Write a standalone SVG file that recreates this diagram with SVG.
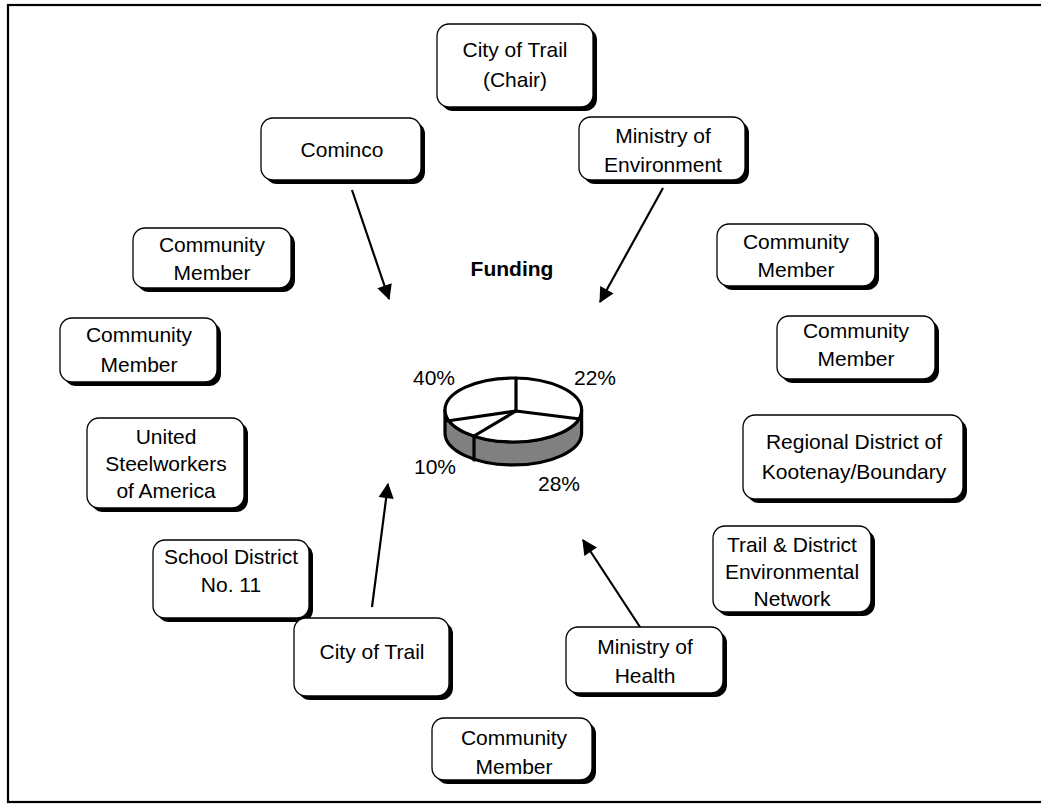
<svg xmlns="http://www.w3.org/2000/svg" width="1041" height="804" viewBox="0 0 1041 804">
<defs>
<style>
.sh{fill:#000}
.bx{fill:#fff;stroke:#000;stroke-width:1.3}
.t{font-family:"Liberation Sans",Arial,sans-serif;font-size:21px;fill:#000;text-anchor:middle}
.b{font-weight:bold}
.ar{stroke:#000;stroke-width:2.2;fill:none}
.pl{stroke:#000;stroke-width:3.2;stroke-linecap:round;stroke-linejoin:round}
</style>
<marker id="ah" viewBox="0 0 10 10" refX="9" refY="5" markerWidth="8" markerHeight="8" markerUnits="userSpaceOnUse" orient="auto" style="overflow:visible">
<path d="M0,0 L10,5 L0,10 z" fill="#000" transform="scale(1.9) translate(-4.5,-2.4)"/>
</marker>
</defs>
<rect width="1041" height="804" fill="#fff"/>
<rect x="8" y="5" width="1035" height="797" fill="none" stroke="#000" stroke-width="2.2"/>

<g id="n-chair"><rect class="sh" x="441" y="28" width="156" height="83" rx="12"/><rect class="bx" x="437" y="24" width="156" height="83" rx="12"/><text class="t" x="515" y="57">City of Trail</text><text class="t" x="515" y="87">(Chair)</text></g>
<g id="n-cominco"><rect class="sh" x="265" y="122" width="160" height="62" rx="12"/><rect class="bx" x="261" y="118" width="160" height="62" rx="12"/><text class="t" x="342" y="157">Cominco</text></g>
<g id="n-minenv"><rect class="sh" x="583" y="121" width="166" height="63" rx="12"/><rect class="bx" x="579" y="117" width="166" height="63" rx="12"/><text class="t" x="663" y="143">Ministry of</text><text class="t" x="663" y="172">Environment</text></g>
<g id="n-cm1"><rect class="sh" x="137" y="232" width="158" height="60" rx="12"/><rect class="bx" x="133" y="228" width="158" height="60" rx="12"/><text class="t" x="212" y="252">Community</text><text class="t" x="212" y="280">Member</text></g>
<g id="n-cm2"><rect class="sh" x="721" y="228" width="158" height="62" rx="12"/><rect class="bx" x="717" y="224" width="158" height="62" rx="12"/><text class="t" x="796" y="249">Community</text><text class="t" x="796" y="277">Member</text></g>
<g id="n-cm3"><rect class="sh" x="64" y="322" width="157" height="64" rx="12"/><rect class="bx" x="60" y="318" width="157" height="64" rx="12"/><text class="t" x="139" y="342">Community</text><text class="t" x="139" y="372">Member</text></g>
<g id="n-cm4"><rect class="sh" x="781" y="320" width="158" height="63" rx="12"/><rect class="bx" x="777" y="316" width="158" height="63" rx="12"/><text class="t" x="856" y="338">Community</text><text class="t" x="856" y="366">Member</text></g>
<g id="n-usw"><rect class="sh" x="91" y="422" width="157" height="90" rx="12"/><rect class="bx" x="87" y="418" width="157" height="90" rx="12"/><text class="t" x="166" y="444">United</text><text class="t" x="166" y="471">Steelworkers</text><text class="t" x="166" y="498">of America</text></g>
<g id="n-regional"><rect class="sh" x="747" y="419" width="220" height="84" rx="12"/><rect class="bx" x="743" y="415" width="220" height="84" rx="12"/><text class="t" x="854" y="449">Regional District of</text><text class="t" x="854" y="479">Kootenay/Boundary</text></g>
<g id="n-school"><rect class="sh" x="157" y="544" width="156" height="78" rx="12"/><rect class="bx" x="153" y="540" width="156" height="78" rx="12"/><text class="t" x="231" y="564">School District</text><text class="t" x="231" y="592">No. 11</text></g>
<g id="n-tden"><rect class="sh" x="717" y="530" width="158" height="86" rx="12"/><rect class="bx" x="713" y="526" width="158" height="86" rx="12"/><text class="t" x="792" y="552">Trail &amp; District</text><text class="t" x="792" y="579">Environmental</text><text class="t" x="792" y="606">Network</text></g>
<g id="n-trail"><rect class="sh" x="298" y="622" width="155" height="78" rx="12"/><rect class="bx" x="294" y="618" width="155" height="78" rx="12"/><text class="t" x="372" y="659">City of Trail</text></g>
<g id="n-minhealth"><rect class="sh" x="570" y="631" width="157" height="66" rx="12"/><rect class="bx" x="566" y="627" width="157" height="66" rx="12"/><text class="t" x="645" y="654">Ministry of</text><text class="t" x="645" y="683">Health</text></g>
<g id="n-cm5"><rect class="sh" x="436" y="722" width="160" height="62" rx="12"/><rect class="bx" x="432" y="718" width="160" height="62" rx="12"/><text class="t" x="514" y="745">Community</text><text class="t" x="514" y="774">Member</text></g>

<g id="funding">
<text class="t b" x="512" y="276">Funding</text>
<path d="M445,410 L445,433 A68.3,32 0 0 0 581.6,433 L581.6,410 A68.3,32 0 0 1 445,410 Z" fill="#808080" stroke="#000" stroke-width="3.2" stroke-linejoin="round"/>
<ellipse cx="513.3" cy="410" rx="68.3" ry="32" fill="#fff" stroke="#000" stroke-width="3.2"/>
<line class="pl" x1="516" y1="411" x2="516" y2="378"/>
<line class="pl" x1="516" y1="411" x2="580" y2="419"/>
<line class="pl" x1="516" y1="411" x2="447" y2="421"/>
<line class="pl" x1="516" y1="411" x2="474" y2="436"/>
<line class="pl" x1="474" y1="436" x2="474" y2="460"/>
<text class="t" x="434" y="385">40%</text>
<text class="t" x="595" y="385">22%</text>
<text class="t" x="435" y="474">10%</text>
<text class="t" x="559" y="491">28%</text>
</g>

<g id="connectors">
<line class="ar" x1="352" y1="190" x2="389" y2="299" marker-end="url(#ah)"/>
<line class="ar" x1="663" y1="188" x2="600" y2="302" marker-end="url(#ah)"/>
<line class="ar" x1="372" y1="607" x2="388" y2="484" marker-end="url(#ah)"/>
<line class="ar" x1="640" y1="627" x2="583" y2="540" marker-end="url(#ah)"/>
</g>
</svg>
